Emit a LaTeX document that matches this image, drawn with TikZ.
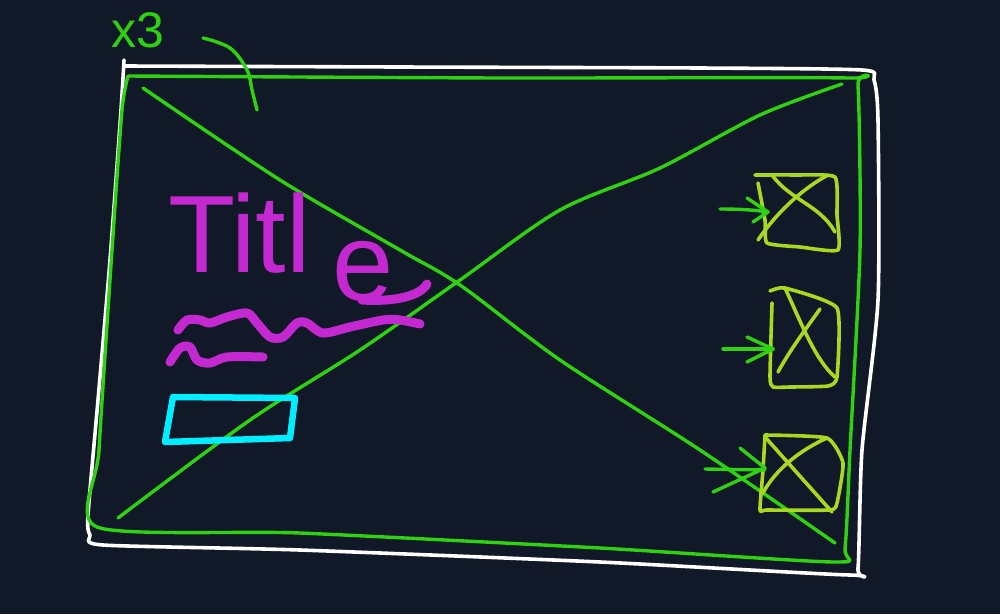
\documentclass[tikz,border=0pt]{standalone}
\usepackage{fontspec}
\setsansfont{Liberation Sans}
\begin{document}
\begin{tikzpicture}[x=1pt,y=-1pt,line cap=round,line join=round,
  wht/.style={draw=white,line width=3.6pt},
  grn/.style={draw=sketchgreen,line width=3.4pt},
  lime/.style={draw=sketchlime,line width=3.6pt},
  mag/.style={draw=sketchmag,line width=9pt},
  cyn/.style={draw=sketchcyan,line width=6.5pt},
  titlefont/.style={text=sketchmag,font=\sffamily\fontsize{110}{110}\selectfont,inner sep=0pt}]
\definecolor{bg}{RGB}{17,24,39}
\definecolor{sketchgreen}{RGB}{46,210,18}
\definecolor{sketchlime}{RGB}{168,216,32}
\definecolor{sketchmag}{RGB}{196,40,208}
\definecolor{sketchcyan}{RGB}{0,238,255}
\fill[bg] (0,0) rectangle (1000,614);
\useasboundingbox (0,0) rectangle (1000,614);
% white outer frame
\draw[wht] plot[smooth,tension=0.4] coordinates {(124,60) (121,110) (110,260) (98,400) (88,515) (90,535) (103,545) (300,550) (600,562) (850,575) (858,568) (862,450) (878,300) (878,120) (874,80) (862,70) (700,68) (400,67) (125,66)};
% green inner frame
\draw[grn] plot[smooth,tension=0.4] coordinates {(128,76) (500,78) (848,78) (858,86) (860,250) (850,450) (845,548) (835,562) (600,548) (300,533) (97,527) (99,450) (112,250) (122,110) (128,76)};
% green diagonals
\draw[grn] plot[smooth,tension=0.5] coordinates {(143,88) (280,180) (400,250) (460,285) (560,360) (700,450) (835,543)};
\draw[grn] plot[smooth,tension=0.5] coordinates {(118,518) (250,420) (360,350) (460,280) (560,210) (660,168) (760,115) (842,84)};
% hook
\draw[grn] plot[smooth,tension=0.6] coordinates {(203,38) (230,48) (247,70) (252,90) (257,110)};
% x3 label
\node[text=sketchgreen,font=\sffamily\fontsize{50}{50}\selectfont,inner sep=0pt] (xthree) at (138,30) {x3};
% Title
\node[titlefont,anchor=base west] (title) at (168,272) {Titl\hspace{22pt}\raisebox{-28pt}{e}};
\draw[mag] (362,300) .. controls (395,302) and (420,296) .. (427,284);
% subtitle squiggles
\draw[mag] plot[smooth,tension=0.5] coordinates {(178,330) (187,320) (200,320) (210,323) (227,317) (247,313) (257,323) (270,337) (283,337) (297,323) (307,323) (323,333) (350,327) (383,320) (400,320) (420,324)};
\draw[mag] plot[smooth,tension=0.5] coordinates {(170,362) (180,348) (190,347) (197,360) (210,363) (227,357) (263,357)};
% button
\draw[cyn] (173,397) -- (295,398) -- (290,438) -- (165,442) -- cycle;
% thumbnail 1
\draw[lime] plot[smooth,tension=0.3] coordinates {(755,175) (795,175) (835,177) (837,215) (838,250) (800,247) (767,243) (765,220) (758,183)};
\draw[lime] (772,175) .. controls (790,200) and (820,205) .. (835,232);
\draw[lime] (828,175) .. controls (800,190) and (775,215) .. (758,240);
\draw[grn] (720,209) .. controls (740,209) and (755,210) .. (768,212);
\draw[grn] (747,198) -- (768,212) -- (753,222);
% thumbnail 2
\draw[lime] plot[smooth,tension=0.3] coordinates {(770,291) (785,288) (837,308) (837,377) (828,386) (790,387) (773,387) (770,377) (772,303)};
\draw[lime] (785,288) .. controls (800,320) and (815,360) .. (835,377);
\draw[lime] (820,309) .. controls (805,330) and (790,350) .. (778,372);
\draw[grn] (723,349) -- (773,349);
\draw[grn] (747,337) -- (773,349) -- (747,362);
% thumbnail 3
\draw[lime] plot[smooth,tension=0.3] coordinates {(765,435) (827,438) (843,463) (837,503) (830,510) (767,510) (760,510) (763,470) (765,435)};
\draw[lime] (765,437) -- (832,512);
\draw[lime] (827,438) .. controls (800,450) and (775,470) .. (763,493);
\draw[grn] (705,469) -- (765,470);
\draw[grn] (740,448) -- (765,468) -- (713,492);
\end{tikzpicture}
\end{document}
